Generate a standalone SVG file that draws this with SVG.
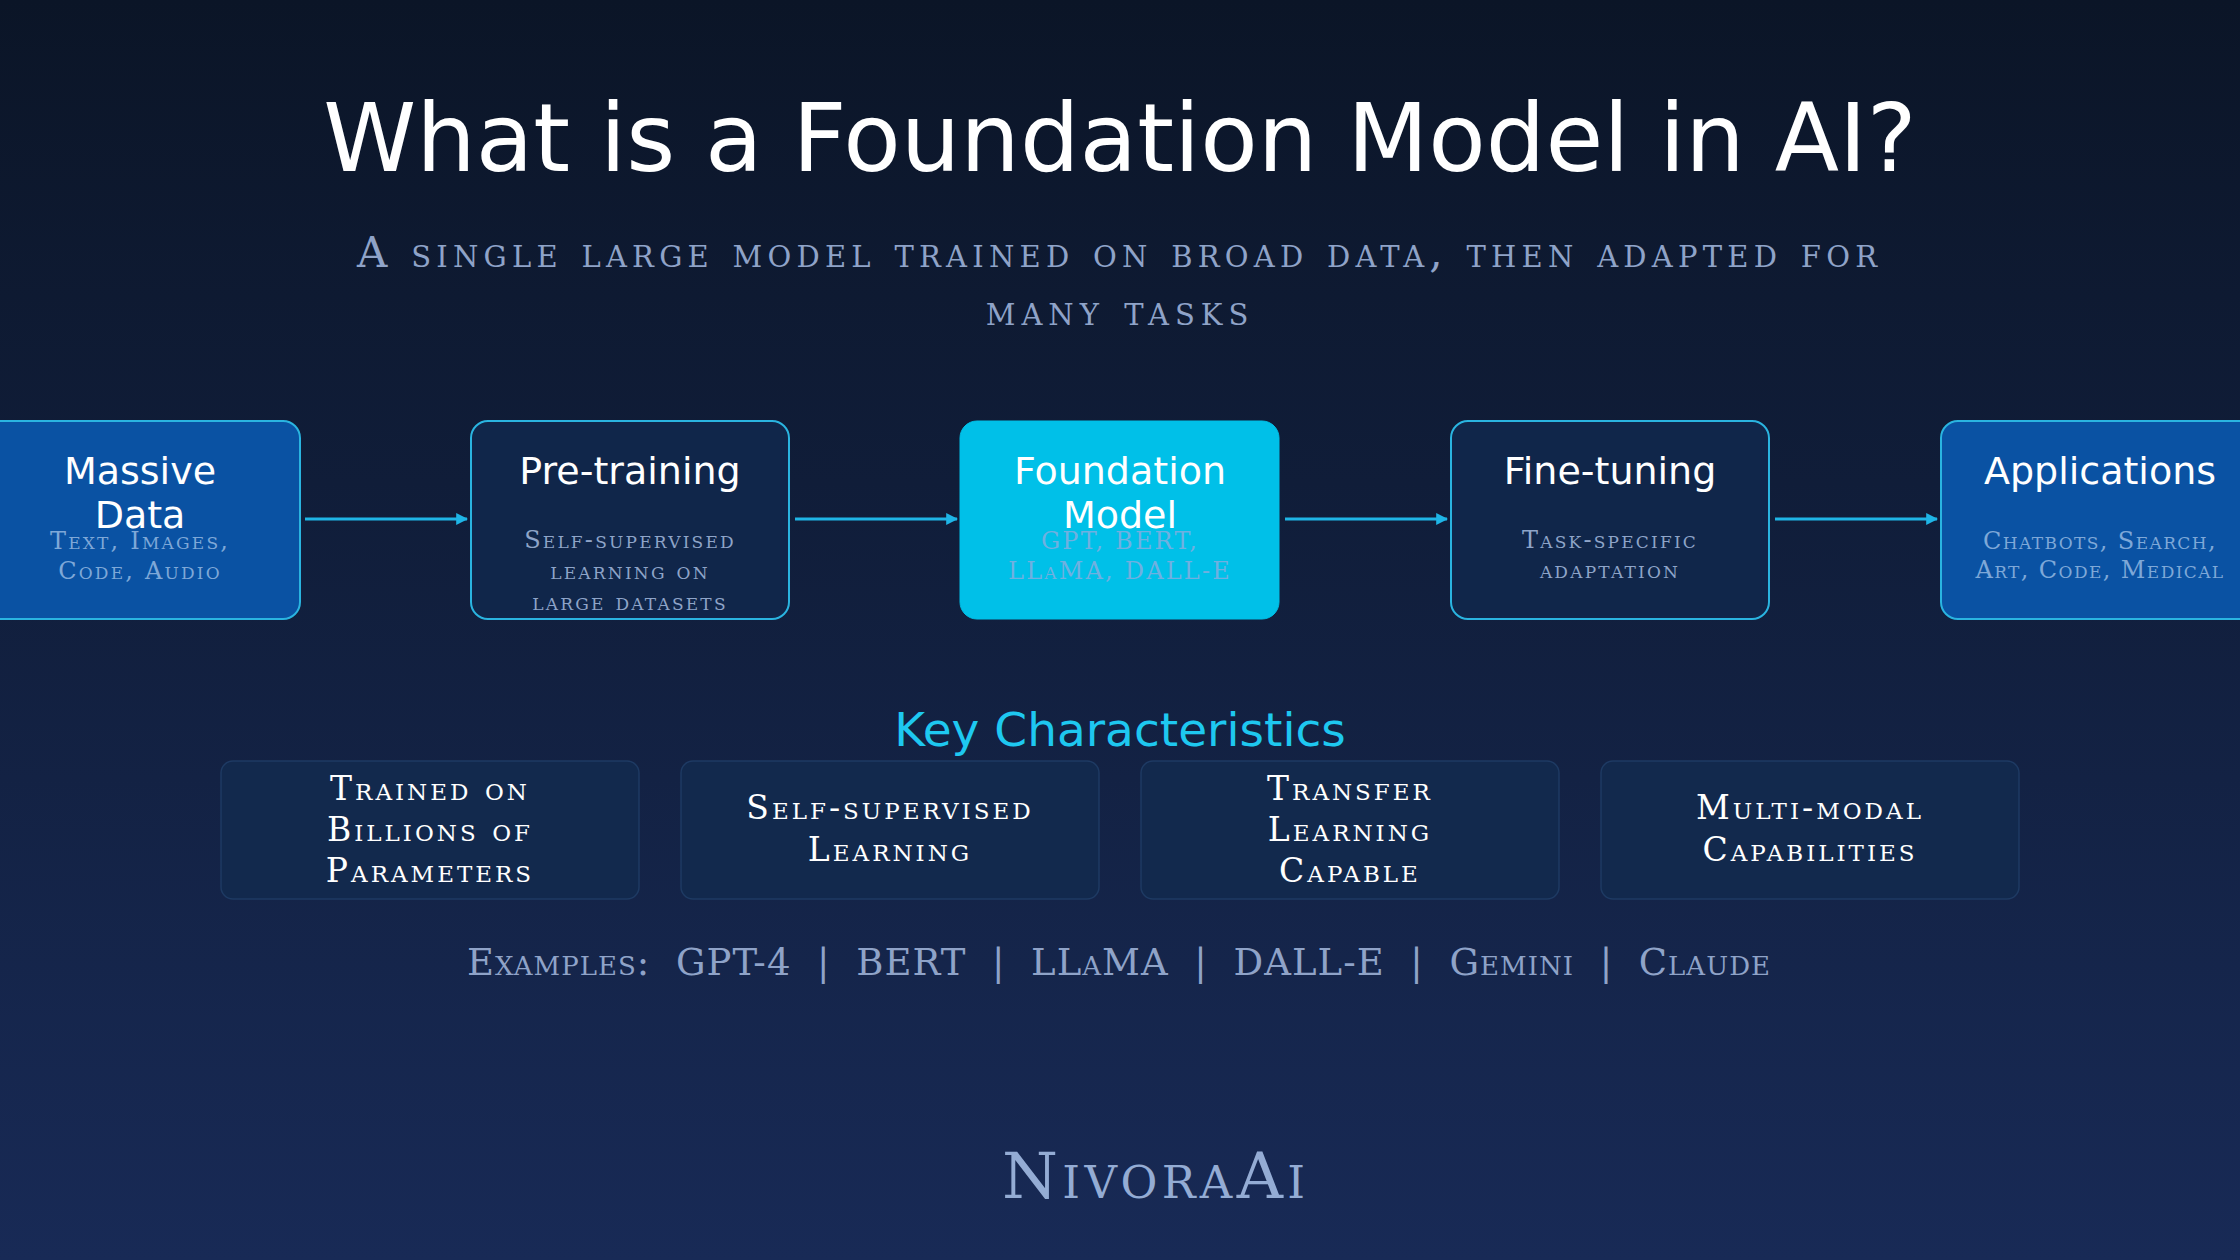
<svg xmlns="http://www.w3.org/2000/svg" width="2240" height="1260" viewBox="0 0 2240 1260">
<defs>
<linearGradient id="bg" x1="0" y1="0" x2="0" y2="1">
<stop offset="0" stop-color="#0b1527"/>
<stop offset="1" stop-color="#182a56"/>
</linearGradient>
<marker id="arr" viewBox="0 0 10 10" refX="9" refY="5" markerWidth="4" markerHeight="4" orient="auto" markerUnits="strokeWidth">
<path d="M0,0 L10,5 L0,10 z" fill="#1fb5e6"/>
</marker>
<style>
.h{font-family:"DejaVu Sans","Open Sans",sans-serif;fill:#ffffff;text-anchor:middle}
.slab{font-family:"DejaVu Serif","Liberation Serif",serif;font-variant:small-caps;text-anchor:middle}
.nt{font-size:38px}
.ns{font-size:24px;fill:#8ea4c8;letter-spacing:2.2px}
.nsb{fill:#7ea8d8}
.nsc{fill:#6fb0e0}
.tight{letter-spacing:1.4px}
.box{stroke:#2ab4e0;stroke-width:2}
.dark{fill:#10264a}
.blue{fill:#0a52a3}
.cyan{fill:#00c0e8;stroke:#00c0e8}
.card{fill:#12294d;stroke:#1e3a63;stroke-width:1.5}
.ct{font-size:33px;fill:#ffffff;letter-spacing:3px}
.conn{stroke:#1fb5e6;stroke-width:3;fill:none}
</style>
</defs>
<rect width="2240" height="1260" fill="url(#bg)"/>
<g id="title">
<text class="h" x="1120" y="171" font-size="94">What is a Foundation Model in AI?</text>
<text class="slab" x="1120" y="267" font-size="42" fill="#8fa3c8" letter-spacing="6" textLength="1526" lengthAdjust="spacing">A single large model trained on broad data, then adapted for</text>
<text class="slab" x="1120" y="325" font-size="42" fill="#8fa3c8" letter-spacing="6">many tasks</text>
</g>
<g id="connectors">
<line class="conn" x1="305" y1="519" x2="467" y2="519" marker-end="url(#arr)"/>
<line class="conn" x1="795" y1="519" x2="957" y2="519" marker-end="url(#arr)"/>
<line class="conn" x1="1285" y1="519" x2="1447" y2="519" marker-end="url(#arr)"/>
<line class="conn" x1="1775" y1="519" x2="1937" y2="519" marker-end="url(#arr)"/>
</g>
<g id="node-massive-data">
<rect class="box blue" x="-20" y="421" width="320" height="198" rx="17"/>
<text class="h nt" x="140" y="484">Massive</text>
<text class="h nt" x="140" y="528">Data</text>
<text class="slab ns nsb" x="140" y="549">Text, Images,</text>
<text class="slab ns nsb" x="140" y="579">Code, Audio</text>
</g>
<g id="node-pre-training">
<rect class="box dark" x="471" y="421" width="318" height="198" rx="17"/>
<text class="h nt" x="630" y="484">Pre-training</text>
<text class="slab ns" x="630" y="548">Self-supervised</text>
<text class="slab ns" x="630" y="579">learning on</text>
<text class="slab ns" x="630" y="610">large datasets</text>
</g>
<g id="node-foundation-model">
<rect class="cyan" x="960" y="421" width="319" height="198" rx="17"/>
<text class="h nt" x="1120" y="484">Foundation</text>
<text class="h nt" x="1120" y="528">Model</text>
<text class="slab ns nsc" x="1120" y="549">GPT, BERT,</text>
<text class="slab ns nsc" x="1120" y="579">LLaMA, DALL-E</text>
</g>
<g id="node-fine-tuning">
<rect class="box dark" x="1451" y="421" width="318" height="198" rx="17"/>
<text class="h nt" x="1610" y="484">Fine-tuning</text>
<text class="slab ns" x="1610" y="548">Task-specific</text>
<text class="slab ns" x="1610" y="578">adaptation</text>
</g>
<g id="node-applications">
<rect class="box blue" x="1941" y="421" width="320" height="198" rx="17"/>
<text class="h nt" x="2100" y="484">Applications</text>
<text class="slab ns nsb tight" x="2100" y="549">Chatbots, Search,</text>
<text class="slab ns nsb tight" x="2100" y="578">Art, Code, Medical</text>
</g>
<g id="key-characteristics">
<text class="h" x="1120" y="746" font-size="47" style="fill:#1ec8f0">Key Characteristics</text>
</g>
<g id="card-billions">
<rect class="card" x="221" y="761" width="418" height="138" rx="12"/>
<text class="slab ct" x="430" y="800">Trained on</text>
<text class="slab ct" x="430" y="841">Billions of</text>
<text class="slab ct" x="430" y="882">Parameters</text>
</g>
<g id="card-self-supervised">
<rect class="card" x="681" y="761" width="418" height="138" rx="12"/>
<text class="slab ct" x="890" y="819">Self-supervised</text>
<text class="slab ct" x="890" y="861">Learning</text>
</g>
<g id="card-transfer">
<rect class="card" x="1141" y="761" width="418" height="138" rx="12"/>
<text class="slab ct" x="1350" y="800">Transfer</text>
<text class="slab ct" x="1350" y="841">Learning</text>
<text class="slab ct" x="1350" y="882">Capable</text>
</g>
<g id="card-multimodal">
<rect class="card" x="1601" y="761" width="418" height="138" rx="12"/>
<text class="slab ct" x="1810" y="819">Multi-modal</text>
<text class="slab ct" x="1810" y="861">Capabilities</text>
</g>
<g id="examples">
<text class="slab" x="1120" y="975" font-size="37" fill="#8fa3c8" letter-spacing="3" textLength="1306" lengthAdjust="spacing" xml:space="preserve">Examples:  GPT-4  |  BERT  |  LLaMA  |  DALL-E  |  Gemini  |  Claude</text>
</g>
<g id="brand">
<text class="slab" x="1155" y="1198" font-size="64" fill="#94acd4" letter-spacing="3" textLength="306" lengthAdjust="spacing">NivoraAi</text>
</g>
</svg>
